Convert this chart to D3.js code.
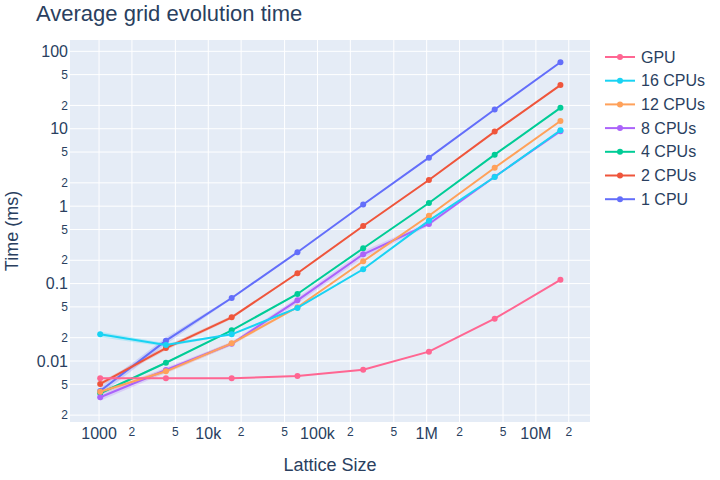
<!DOCTYPE html>
<html>
<head>
<meta charset="utf-8">
<script src="https://cdn.jsdelivr.net/npm/d3@7"></script>
<style>
  body { margin: 0; background: white; }
  text { font-family: "Liberation Sans", Arial, sans-serif; fill: #2a3f5f; }
</style>
</head>
<body>
<svg id="chart" width="720" height="480"></svg>
<script>
'use strict';

// lattice sizes (x)
var sizes = [1024, 4096, 16384, 65536, 262144, 1048576, 4194304, 16777216];

// average time per grid evolution, ms
var cpu1  = [0.0041, 0.0183, 0.0652, 0.254, 1.05, 4.23, 17.7, 72.3];
var cpu2  = [0.00505, 0.0147, 0.0367, 0.136, 0.555, 2.18, 9.18, 36.6];
var cpu4  = [0.00383, 0.0095, 0.0249, 0.0734, 0.286, 1.10, 4.63, 18.6];
var cpu8  = [0.0034, 0.00765, 0.0167, 0.0608, 0.239, 0.589, 2.4, 9.3];
var cpu12 = [0.0040, 0.00736, 0.0169, 0.0495, 0.194, 0.753, 3.14, 12.6];
var cpu16 = [0.0221, 0.0161, 0.0221, 0.0485, 0.153, 0.65, 2.38, 9.55];
var gpu   = [0.0060, 0.0060, 0.0060, 0.0064, 0.0077, 0.0132, 0.0352, 0.112];

// relative spread (shaded band) per point
var cpu1Spread  = [0.12, 0.10, 0.03, 0.01, 0.01, 0.01, 0.01, 0.01];
var cpu2Spread  = [0.06, 0.06, 0.05, 0.02, 0.01, 0.01, 0.01, 0.01];
var cpu4Spread  = [0.04, 0.03, 0.02, 0.02, 0.02, 0.01, 0.01, 0.01];
var cpu8Spread  = [0.10, 0.08, 0.05, 0.09, 0.10, 0.06, 0.02, 0.01];
var cpu12Spread = [0.07, 0.06, 0.06, 0.03, 0.02, 0.02, 0.01, 0.01];
var cpu16Spread = [0.08, 0.05, 0.02, 0.02, 0.02, 0.02, 0.01, 0.01];
var gpuSpread   = [0.02, 0.01, 0.01, 0.01, 0.01, 0.01, 0.01, 0.01];

var seriesNames = ["1 CPU", "2 CPUs", "4 CPUs", "8 CPUs", "12 CPUs", "16 CPUs", "GPU"];
var seriesValues = [cpu1, cpu2, cpu4, cpu8, cpu12, cpu16, gpu];
var seriesSpreads = [cpu1Spread, cpu2Spread, cpu4Spread, cpu8Spread, cpu12Spread, cpu16Spread, gpuSpread];
var seriesColors = ["#636efa", "#EF553B", "#00cc96", "#ab63fa", "#FFA15A", "#19d3f3", "#FF6692"];

// ticks
var xMajor = [1000, 10000, 100000, 1000000, 10000000];
var xMajorLabels = ["1000", "10k", "100k", "1M", "10M"];
var xMinor = [2000, 5000, 20000, 50000, 200000, 500000, 2000000, 5000000, 20000000];
var yMajor = [0.01, 0.1, 1, 10, 100];
var yMajorLabels = ["0.01", "0.1", "1", "10", "100"];
var yMinor = [0.002, 0.005, 0.02, 0.05, 0.2, 0.5, 2, 5, 20, 50];

var svg = d3.select("#chart");
var plot = {left: 70, right: 590, top: 40, bottom: 422};

var x = d3.scaleLog()
          .domain([542, 3.13e7])
          .range([plot.left, plot.right]);
var y = d3.scaleLog()
          .domain([0.00163, 140])
          .range([plot.bottom, plot.top]);

svg.append("rect")
   .attr("x", plot.left)
   .attr("y", plot.top)
   .attr("width", plot.right - plot.left)
   .attr("height", plot.bottom - plot.top)
   .attr("fill", "#e5ecf6");

// grid lines
var grid = svg.append("g").attr("class", "grid");
grid.selectAll(".gx")
    .data(xMajor.concat(xMinor))
    .join("line")
    .attr("x1", d => x(d)).attr("x2", d => x(d))
    .attr("y1", plot.top).attr("y2", plot.bottom)
    .attr("stroke", "white").attr("stroke-width", 1);
grid.selectAll(".gy")
    .data(yMajor.concat(yMinor))
    .join("line")
    .attr("class", "gy")
    .attr("y1", d => y(d)).attr("y2", d => y(d))
    .attr("x1", plot.left).attr("x2", plot.right)
    .attr("stroke", "white").attr("stroke-width", 1);

// tick labels
function minorLabel(d) {
    return String(Math.round(d / Math.pow(10, Math.floor(Math.log10(d) + 1e-9))));
}

svg.append("g").selectAll("text")
   .data(yMajor)
   .join("text")
   .attr("x", plot.left - 2)
   .attr("y", d => y(d))
   .attr("dy", "0.35em")
   .attr("text-anchor", "end")
   .style("font-size", "16px")
   .text((d, i) => yMajorLabels[i]);
svg.append("g").selectAll("text")
   .data(yMinor)
   .join("text")
   .attr("x", plot.left - 2)
   .attr("y", d => y(d))
   .attr("dy", "0.35em")
   .attr("text-anchor", "end")
   .style("font-size", "12px")
   .text(minorLabel);

svg.append("g").selectAll("text")
   .data(xMajor)
   .join("text")
   .attr("x", d => x(d))
   .attr("y", 439)
   .attr("text-anchor", "middle")
   .style("font-size", "16px")
   .text((d, i) => xMajorLabels[i]);
svg.append("g").selectAll("text")
   .data(xMinor)
   .join("text")
   .attr("x", d => x(d))
   .attr("y", 436)
   .attr("text-anchor", "middle")
   .style("font-size", "12px")
   .text(minorLabel);

// bands
var band = d3.area()
             .x(d => x(d[0]))
             .y0(d => y(d[1] * (1 - d[2])))
             .y1(d => y(d[1] * (1 + d[2])));
var line = d3.line()
             .x(d => x(d[0]))
             .y(d => y(d[1]));

seriesValues.forEach(function(vals, i) {
    var pts = sizes.map((s, j) => [s, vals[j], seriesSpreads[i][j]]);
    svg.append("path")
       .datum(pts)
       .attr("d", band)
       .attr("fill", seriesColors[i])
       .attr("fill-opacity", 0.22);
});

seriesValues.forEach(function(vals, i) {
    var pts = sizes.map((s, j) => [s, vals[j]]);
    var g = svg.append("g");
    g.append("path")
     .datum(pts)
     .attr("d", line)
     .attr("fill", "none")
     .attr("stroke", seriesColors[i])
     .attr("stroke-width", 2);
    g.selectAll("circle")
     .data(pts)
     .join("circle")
     .attr("cx", d => x(d[0]))
     .attr("cy", d => y(d[1]))
     .attr("r", 3)
     .attr("fill", seriesColors[i]);
});

// legend (reversed order)
var legend = svg.append("g");
var order = seriesNames.map((n, i) => i).reverse();
order.forEach(function(idx, k) {
    var ly = 57 + k * 23.7;
    legend.append("line")
          .attr("x1", 605).attr("x2", 635)
          .attr("y1", ly).attr("y2", ly)
          .attr("stroke", seriesColors[idx]).attr("stroke-width", 2);
    legend.append("circle")
          .attr("cx", 620).attr("cy", ly).attr("r", 3)
          .attr("fill", seriesColors[idx]);
    legend.append("text")
          .attr("x", 641).attr("y", ly)
          .attr("dy", "0.35em")
          .style("font-size", "16px")
          .text(seriesNames[idx]);
});

// titles
svg.append("text")
   .attr("x", 36).attr("y", 21)
   .style("font-size", "22px")
   .text("Average grid evolution time");
svg.append("text")
   .attr("x", (plot.left + plot.right) / 2).attr("y", 471)
   .attr("text-anchor", "middle")
   .style("font-size", "18px")
   .text("Lattice Size");
svg.append("text")
   .attr("transform", "translate(18," + ((plot.top + plot.bottom) / 2) + ") rotate(-90)")
   .attr("text-anchor", "middle")
   .style("font-size", "18px")
   .text("Time (ms)");
</script>
</body>
</html>
